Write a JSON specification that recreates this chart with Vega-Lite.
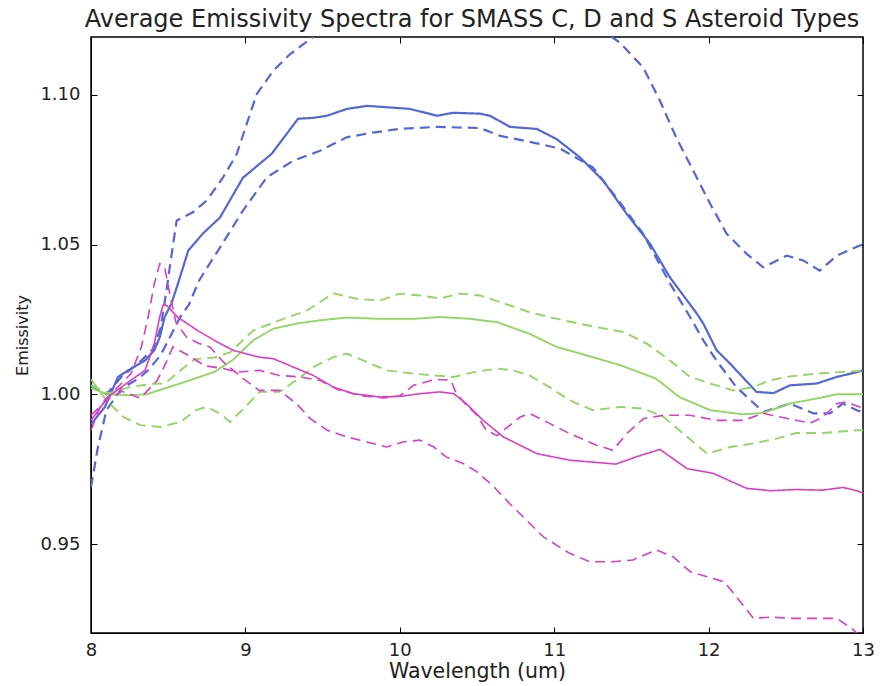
{
  "$schema": "https://vega.github.io/schema/vega-lite/v6.json",
  "width": 772,
  "height": 596,
  "autosize": "none",
  "padding": {"left": 91, "top": 37, "right": 22, "bottom": 53},
  "background": "white",
  "title": {"text": "Average Emissivity Spectra for SMASS C, D and S Asteroid Types", "font": "DejaVu Sans", "fontSize": 24, "fontWeight": "normal", "color": "#222222", "anchor": "middle", "baseline": "alphabetic", "offset": 9, "dy": 23, "dx": -5},
  "config": {
    "view": {"stroke": "#000000", "strokeWidth": 1.5},
    "axis": {"labelFont": "DejaVu Sans", "titleFont": "DejaVu Sans", "labelFontSize": 18, "titleFontSize": 17, "titleFontWeight": "normal", "labelColor": "#222222", "titleColor": "#222222", "grid": false, "domainColor": "#000000", "tickColor": "#000000", "tickSize": -6, "tickWidth": 1}
  },
  "datasets": {
    "spectra": [
      {"s":"C0","t":"C","k":"mean","x":8.0,"y":0.990},{"s":"C0","t":"C","k":"mean","x":8.09,"y":0.9958},{"s":"C0","t":"C","k":"mean","x":8.175,"y":1.0058},{"s":"C0","t":"C","k":"mean","x":8.26,"y":1.0086},{"s":"C0","t":"C","k":"mean","x":8.35,"y":1.0113},{"s":"C0","t":"C","k":"mean","x":8.41,"y":1.0147},{"s":"C0","t":"C","k":"mean","x":8.445,"y":1.019},{"s":"C0","t":"C","k":"mean","x":8.477,"y":1.0258},{"s":"C0","t":"C","k":"mean","x":8.52,"y":1.0302},{"s":"C0","t":"C","k":"mean","x":8.563,"y":1.0369},{"s":"C0","t":"C","k":"mean","x":8.63,"y":1.048},{"s":"C0","t":"C","k":"mean","x":8.725,"y":1.0537},{"s":"C0","t":"C","k":"mean","x":8.835,"y":1.059},{"s":"C0","t":"C","k":"mean","x":8.984,"y":1.0723},{"s":"C0","t":"C","k":"mean","x":9.17,"y":1.0803},{"s":"C0","t":"C","k":"mean","x":9.341,"y":1.092},{"s":"C0","t":"C","k":"mean","x":9.438,"y":1.0923},{"s":"C0","t":"C","k":"mean","x":9.528,"y":1.093},{"s":"C0","t":"C","k":"mean","x":9.658,"y":1.0953},{"s":"C0","t":"C","k":"mean","x":9.788,"y":1.0963},{"s":"C0","t":"C","k":"mean","x":9.956,"y":1.0957},{"s":"C0","t":"C","k":"mean","x":10.066,"y":1.0953},{"s":"C0","t":"C","k":"mean","x":10.241,"y":1.093},{"s":"C0","t":"C","k":"mean","x":10.345,"y":1.094},{"s":"C0","t":"C","k":"mean","x":10.519,"y":1.0937},{"s":"C0","t":"C","k":"mean","x":10.584,"y":1.093},{"s":"C0","t":"C","k":"mean","x":10.714,"y":1.0893},{"s":"C0","t":"C","k":"mean","x":10.887,"y":1.0886},{"s":"C0","t":"C","k":"mean","x":11.016,"y":1.0852},{"s":"C0","t":"C","k":"mean","x":11.167,"y":1.0791},{"s":"C0","t":"C","k":"mean","x":11.318,"y":1.0713},{"s":"C0","t":"C","k":"mean","x":11.47,"y":1.0602},{"s":"C0","t":"C","k":"mean","x":11.62,"y":1.0503},{"s":"C0","t":"C","k":"mean","x":11.75,"y":1.039},{"s":"C0","t":"C","k":"mean","x":11.923,"y":1.027},{"s":"C0","t":"C","k":"mean","x":11.966,"y":1.0236},{"s":"C0","t":"C","k":"mean","x":12.052,"y":1.0147},{"s":"C0","t":"C","k":"mean","x":12.14,"y":1.0102},{"s":"C0","t":"C","k":"mean","x":12.31,"y":1.0008},{"s":"C0","t":"C","k":"mean","x":12.42,"y":1.0004},{"s":"C0","t":"C","k":"mean","x":12.527,"y":1.003},{"s":"C0","t":"C","k":"mean","x":12.70,"y":1.0036},{"s":"C0","t":"C","k":"mean","x":12.83,"y":1.0058},{"s":"C0","t":"C","k":"mean","x":12.96,"y":1.0074},{"s":"C0","t":"C","k":"mean","x":13.0,"y":1.008},

      {"s":"C1","t":"C","k":"std","x":8.0,"y":1.003},{"s":"C1","t":"C","k":"std","x":8.1,"y":1.0},{"s":"C1","t":"C","k":"std","x":8.2,"y":1.006},{"s":"C1","t":"C","k":"std","x":8.3,"y":1.010},{"s":"C1","t":"C","k":"std","x":8.4,"y":1.015},{"s":"C1","t":"C","k":"std","x":8.45,"y":1.022},{"s":"C1","t":"C","k":"std","x":8.49,"y":1.035},{"s":"C1","t":"C","k":"std","x":8.52,"y":1.046},{"s":"C1","t":"C","k":"std","x":8.555,"y":1.058},{"s":"C1","t":"C","k":"std","x":8.66,"y":1.0608},{"s":"C1","t":"C","k":"std","x":8.75,"y":1.0647},{"s":"C1","t":"C","k":"std","x":8.855,"y":1.0724},{"s":"C1","t":"C","k":"std","x":8.944,"y":1.0802},{"s":"C1","t":"C","k":"std","x":9.008,"y":1.0902},{"s":"C1","t":"C","k":"std","x":9.073,"y":1.1002},{"s":"C1","t":"C","k":"std","x":9.18,"y":1.108},{"s":"C1","t":"C","k":"std","x":9.29,"y":1.1136},{"s":"C1","t":"C","k":"std","x":9.42,"y":1.1186},{"s":"C1","t":"C","k":"std","x":9.6,"y":1.126},{"s":"C1","t":"C","k":"std","x":10.0,"y":1.133},{"s":"C1","t":"C","k":"std","x":10.5,"y":1.135},{"s":"C1","t":"C","k":"std","x":11.0,"y":1.13},{"s":"C1","t":"C","k":"std","x":11.3,"y":1.122},{"s":"C1","t":"C","k":"std","x":11.426,"y":1.1174},{"s":"C1","t":"C","k":"std","x":11.577,"y":1.1091},{"s":"C1","t":"C","k":"std","x":11.685,"y":1.098},{"s":"C1","t":"C","k":"std","x":11.79,"y":1.0858},{"s":"C1","t":"C","k":"std","x":11.90,"y":1.0747},{"s":"C1","t":"C","k":"std","x":12.01,"y":1.0636},{"s":"C1","t":"C","k":"std","x":12.117,"y":1.0536},{"s":"C1","t":"C","k":"std","x":12.246,"y":1.0469},{"s":"C1","t":"C","k":"std","x":12.354,"y":1.0424},{"s":"C1","t":"C","k":"std","x":12.506,"y":1.0463},{"s":"C1","t":"C","k":"std","x":12.613,"y":1.0447},{"s":"C1","t":"C","k":"std","x":12.72,"y":1.0413},{"s":"C1","t":"C","k":"std","x":12.83,"y":1.0463},{"s":"C1","t":"C","k":"std","x":12.98,"y":1.0497},{"s":"C1","t":"C","k":"std","x":13.0,"y":1.050},

      {"s":"C2","t":"C","k":"std","x":8.0,"y":0.969},{"s":"C2","t":"C","k":"std","x":8.045,"y":0.9824},{"s":"C2","t":"C","k":"std","x":8.1,"y":0.9947},{"s":"C2","t":"C","k":"std","x":8.2,"y":1.002},{"s":"C2","t":"C","k":"std","x":8.3,"y":1.005},{"s":"C2","t":"C","k":"std","x":8.37,"y":1.008},{"s":"C2","t":"C","k":"std","x":8.45,"y":1.013},{"s":"C2","t":"C","k":"std","x":8.52,"y":1.020},{"s":"C2","t":"C","k":"std","x":8.58,"y":1.026},{"s":"C2","t":"C","k":"std","x":8.635,"y":1.030},{"s":"C2","t":"C","k":"std","x":8.70,"y":1.038},{"s":"C2","t":"C","k":"std","x":8.77,"y":1.0437},{"s":"C2","t":"C","k":"std","x":8.835,"y":1.049},{"s":"C2","t":"C","k":"std","x":8.984,"y":1.0613},{"s":"C2","t":"C","k":"std","x":9.138,"y":1.0724},{"s":"C2","t":"C","k":"std","x":9.31,"y":1.078},{"s":"C2","t":"C","k":"std","x":9.483,"y":1.0813},{"s":"C2","t":"C","k":"std","x":9.656,"y":1.0858},{"s":"C2","t":"C","k":"std","x":9.826,"y":1.0874},{"s":"C2","t":"C","k":"std","x":10.0,"y":1.0886},{"s":"C2","t":"C","k":"std","x":10.24,"y":1.0893},{"s":"C2","t":"C","k":"std","x":10.52,"y":1.0889},{"s":"C2","t":"C","k":"std","x":10.65,"y":1.0863},{"s":"C2","t":"C","k":"std","x":10.887,"y":1.0838},{"s":"C2","t":"C","k":"std","x":11.04,"y":1.082},{"s":"C2","t":"C","k":"std","x":11.25,"y":1.0758},{"s":"C2","t":"C","k":"std","x":11.40,"y":1.0658},{"s":"C2","t":"C","k":"std","x":11.575,"y":1.0537},{"s":"C2","t":"C","k":"std","x":11.75,"y":1.037},{"s":"C2","t":"C","k":"std","x":11.88,"y":1.0258},{"s":"C2","t":"C","k":"std","x":11.966,"y":1.018},{"s":"C2","t":"C","k":"std","x":12.05,"y":1.0113},{"s":"C2","t":"C","k":"std","x":12.18,"y":1.0024},{"s":"C2","t":"C","k":"std","x":12.354,"y":0.9941},{"s":"C2","t":"C","k":"std","x":12.527,"y":0.9969},{"s":"C2","t":"C","k":"std","x":12.68,"y":0.9936},{"s":"C2","t":"C","k":"std","x":12.786,"y":0.9936},{"s":"C2","t":"C","k":"std","x":12.87,"y":0.9969},{"s":"C2","t":"C","k":"std","x":12.96,"y":0.9947},{"s":"C2","t":"C","k":"std","x":13.0,"y":0.994},

      {"s":"S0","t":"S","k":"mean","x":8.0,"y":1.002},{"s":"S0","t":"S","k":"mean","x":8.11,"y":1.0},{"s":"S0","t":"S","k":"mean","x":8.25,"y":0.9997},{"s":"S0","t":"S","k":"mean","x":8.36,"y":1.0},{"s":"S0","t":"S","k":"mean","x":8.48,"y":1.002},{"s":"S0","t":"S","k":"mean","x":8.63,"y":1.0045},{"s":"S0","t":"S","k":"mean","x":8.80,"y":1.0075},{"s":"S0","t":"S","k":"mean","x":8.92,"y":1.0115},{"s":"S0","t":"S","k":"mean","x":9.05,"y":1.018},{"s":"S0","t":"S","k":"mean","x":9.18,"y":1.0219},{"s":"S0","t":"S","k":"mean","x":9.33,"y":1.0236},{"s":"S0","t":"S","k":"mean","x":9.48,"y":1.0247},{"s":"S0","t":"S","k":"mean","x":9.656,"y":1.0256},{"s":"S0","t":"S","k":"mean","x":9.87,"y":1.0252},{"s":"S0","t":"S","k":"mean","x":10.09,"y":1.0252},{"s":"S0","t":"S","k":"mean","x":10.26,"y":1.0258},{"s":"S0","t":"S","k":"mean","x":10.455,"y":1.0252},{"s":"S0","t":"S","k":"mean","x":10.63,"y":1.0241},{"s":"S0","t":"S","k":"mean","x":10.84,"y":1.0202},{"s":"S0","t":"S","k":"mean","x":11.016,"y":1.0158},{"s":"S0","t":"S","k":"mean","x":11.21,"y":1.013},{"s":"S0","t":"S","k":"mean","x":11.43,"y":1.0097},{"s":"S0","t":"S","k":"mean","x":11.66,"y":1.0052},{"s":"S0","t":"S","k":"mean","x":11.81,"y":0.9991},{"s":"S0","t":"S","k":"mean","x":12.01,"y":0.9947},{"s":"S0","t":"S","k":"mean","x":12.225,"y":0.9933},{"s":"S0","t":"S","k":"mean","x":12.354,"y":0.9938},{"s":"S0","t":"S","k":"mean","x":12.527,"y":0.9969},{"s":"S0","t":"S","k":"mean","x":12.70,"y":0.9986},{"s":"S0","t":"S","k":"mean","x":12.83,"y":1.0},{"s":"S0","t":"S","k":"mean","x":13.0,"y":1.0},

      {"s":"S1","t":"S","k":"std","x":8.0,"y":1.003},{"s":"S1","t":"S","k":"std","x":8.12,"y":1.0003},{"s":"S1","t":"S","k":"std","x":8.25,"y":1.0024},{"s":"S1","t":"S","k":"std","x":8.4,"y":1.0035},{"s":"S1","t":"S","k":"std","x":8.48,"y":1.0036},{"s":"S1","t":"S","k":"std","x":8.58,"y":1.008},{"s":"S1","t":"S","k":"std","x":8.67,"y":1.0117},{"s":"S1","t":"S","k":"std","x":8.80,"y":1.0123},{"s":"S1","t":"S","k":"std","x":8.9,"y":1.014},{"s":"S1","t":"S","k":"std","x":9.05,"y":1.0213},{"s":"S1","t":"S","k":"std","x":9.22,"y":1.0247},{"s":"S1","t":"S","k":"std","x":9.40,"y":1.028},{"s":"S1","t":"S","k":"std","x":9.57,"y":1.0337},{"s":"S1","t":"S","k":"std","x":9.72,"y":1.0319},{"s":"S1","t":"S","k":"std","x":9.87,"y":1.0313},{"s":"S1","t":"S","k":"std","x":10.0,"y":1.0336},{"s":"S1","t":"S","k":"std","x":10.13,"y":1.033},{"s":"S1","t":"S","k":"std","x":10.26,"y":1.032},{"s":"S1","t":"S","k":"std","x":10.39,"y":1.0336},{"s":"S1","t":"S","k":"std","x":10.52,"y":1.033},{"s":"S1","t":"S","k":"std","x":10.65,"y":1.0308},{"s":"S1","t":"S","k":"std","x":10.84,"y":1.0274},{"s":"S1","t":"S","k":"std","x":11.06,"y":1.0247},{"s":"S1","t":"S","k":"std","x":11.275,"y":1.0224},{"s":"S1","t":"S","k":"std","x":11.45,"y":1.0208},{"s":"S1","t":"S","k":"std","x":11.60,"y":1.0169},{"s":"S1","t":"S","k":"std","x":11.75,"y":1.0113},{"s":"S1","t":"S","k":"std","x":11.88,"y":1.0058},{"s":"S1","t":"S","k":"std","x":12.01,"y":1.0036},{"s":"S1","t":"S","k":"std","x":12.16,"y":1.0013},{"s":"S1","t":"S","k":"std","x":12.29,"y":1.0024},{"s":"S1","t":"S","k":"std","x":12.40,"y":1.0047},{"s":"S1","t":"S","k":"std","x":12.527,"y":1.006},{"s":"S1","t":"S","k":"std","x":12.70,"y":1.0069},{"s":"S1","t":"S","k":"std","x":12.96,"y":1.0078},{"s":"S1","t":"S","k":"std","x":13.0,"y":1.008},

      {"s":"S2","t":"S","k":"std","x":8.0,"y":1.005},{"s":"S2","t":"S","k":"std","x":8.1,"y":0.998},{"s":"S2","t":"S","k":"std","x":8.21,"y":0.9924},{"s":"S2","t":"S","k":"std","x":8.32,"y":0.9897},{"s":"S2","t":"S","k":"std","x":8.45,"y":0.9891},{"s":"S2","t":"S","k":"std","x":8.58,"y":0.9908},{"s":"S2","t":"S","k":"std","x":8.68,"y":0.9947},{"s":"S2","t":"S","k":"std","x":8.75,"y":0.9958},{"s":"S2","t":"S","k":"std","x":8.835,"y":0.9936},{"s":"S2","t":"S","k":"std","x":8.90,"y":0.9908},{"s":"S2","t":"S","k":"std","x":9.01,"y":0.9963},{"s":"S2","t":"S","k":"std","x":9.09,"y":1.0008},{"s":"S2","t":"S","k":"std","x":9.22,"y":1.0008},{"s":"S2","t":"S","k":"std","x":9.33,"y":1.0047},{"s":"S2","t":"S","k":"std","x":9.44,"y":1.0091},{"s":"S2","t":"S","k":"std","x":9.57,"y":1.0124},{"s":"S2","t":"S","k":"std","x":9.656,"y":1.0136},{"s":"S2","t":"S","k":"std","x":9.786,"y":1.0108},{"s":"S2","t":"S","k":"std","x":9.915,"y":1.008},{"s":"S2","t":"S","k":"std","x":10.09,"y":1.0069},{"s":"S2","t":"S","k":"std","x":10.22,"y":1.0063},{"s":"S2","t":"S","k":"std","x":10.35,"y":1.0058},{"s":"S2","t":"S","k":"std","x":10.48,"y":1.0074},{"s":"S2","t":"S","k":"std","x":10.63,"y":1.0086},{"s":"S2","t":"S","k":"std","x":10.73,"y":1.008},{"s":"S2","t":"S","k":"std","x":10.84,"y":1.0063},{"s":"S2","t":"S","k":"std","x":10.97,"y":1.0024},{"s":"S2","t":"S","k":"std","x":11.10,"y":0.998},{"s":"S2","t":"S","k":"std","x":11.25,"y":0.9947},{"s":"S2","t":"S","k":"std","x":11.43,"y":0.9958},{"s":"S2","t":"S","k":"std","x":11.58,"y":0.9952},{"s":"S2","t":"S","k":"std","x":11.71,"y":0.9924},{"s":"S2","t":"S","k":"std","x":11.86,"y":0.9858},{"s":"S2","t":"S","k":"std","x":11.99,"y":0.9802},{"s":"S2","t":"S","k":"std","x":12.14,"y":0.9824},{"s":"S2","t":"S","k":"std","x":12.29,"y":0.9836},{"s":"S2","t":"S","k":"std","x":12.44,"y":0.9852},{"s":"S2","t":"S","k":"std","x":12.57,"y":0.9871},{"s":"S2","t":"S","k":"std","x":12.74,"y":0.9871},{"s":"S2","t":"S","k":"std","x":12.96,"y":0.988},{"s":"S2","t":"S","k":"std","x":13.0,"y":0.988},

      {"s":"D0","t":"D","k":"mean","x":8.0,"y":0.9913},{"s":"D0","t":"D","k":"mean","x":8.11,"y":0.9991},{"s":"D0","t":"D","k":"mean","x":8.24,"y":1.004},{"s":"D0","t":"D","k":"mean","x":8.35,"y":1.008},{"s":"D0","t":"D","k":"mean","x":8.41,"y":1.0169},{"s":"D0","t":"D","k":"mean","x":8.445,"y":1.0258},{"s":"D0","t":"D","k":"mean","x":8.466,"y":1.0297},{"s":"D0","t":"D","k":"mean","x":8.49,"y":1.0297},{"s":"D0","t":"D","k":"mean","x":8.56,"y":1.0258},{"s":"D0","t":"D","k":"mean","x":8.69,"y":1.0213},{"s":"D0","t":"D","k":"mean","x":8.82,"y":1.0174},{"s":"D0","t":"D","k":"mean","x":8.92,"y":1.0147},{"s":"D0","t":"D","k":"mean","x":9.09,"y":1.0124},{"s":"D0","t":"D","k":"mean","x":9.18,"y":1.0119},{"s":"D0","t":"D","k":"mean","x":9.31,"y":1.0091},{"s":"D0","t":"D","k":"mean","x":9.44,"y":1.0063},{"s":"D0","t":"D","k":"mean","x":9.57,"y":1.0024},{"s":"D0","t":"D","k":"mean","x":9.70,"y":1.0002},{"s":"D0","t":"D","k":"mean","x":9.87,"y":0.9991},{"s":"D0","t":"D","k":"mean","x":10.0,"y":0.9993},{"s":"D0","t":"D","k":"mean","x":10.13,"y":1.0002},{"s":"D0","t":"D","k":"mean","x":10.26,"y":1.0008},{"s":"D0","t":"D","k":"mean","x":10.35,"y":1.0002},{"s":"D0","t":"D","k":"mean","x":10.43,"y":0.9969},{"s":"D0","t":"D","k":"mean","x":10.54,"y":0.9913},{"s":"D0","t":"D","k":"mean","x":10.67,"y":0.9858},{"s":"D0","t":"D","k":"mean","x":10.887,"y":0.9802},{"s":"D0","t":"D","k":"mean","x":11.10,"y":0.978},{"s":"D0","t":"D","k":"mean","x":11.40,"y":0.9767},{"s":"D0","t":"D","k":"mean","x":11.53,"y":0.9791},{"s":"D0","t":"D","k":"mean","x":11.685,"y":0.9816},{"s":"D0","t":"D","k":"mean","x":11.86,"y":0.9752},{"s":"D0","t":"D","k":"mean","x":12.03,"y":0.9736},{"s":"D0","t":"D","k":"mean","x":12.246,"y":0.9686},{"s":"D0","t":"D","k":"mean","x":12.40,"y":0.9678},{"s":"D0","t":"D","k":"mean","x":12.57,"y":0.9682},{"s":"D0","t":"D","k":"mean","x":12.74,"y":0.968},{"s":"D0","t":"D","k":"mean","x":12.87,"y":0.9689},{"s":"D0","t":"D","k":"mean","x":12.96,"y":0.9678},{"s":"D0","t":"D","k":"mean","x":13.0,"y":0.967},

      {"s":"D1","t":"D","k":"std","x":8.0,"y":0.988},{"s":"D1","t":"D","k":"std","x":8.067,"y":0.9969},{"s":"D1","t":"D","k":"std","x":8.153,"y":1.0013},{"s":"D1","t":"D","k":"std","x":8.26,"y":1.0069},{"s":"D1","t":"D","k":"std","x":8.326,"y":1.0158},{"s":"D1","t":"D","k":"std","x":8.37,"y":1.0258},{"s":"D1","t":"D","k":"std","x":8.41,"y":1.0369},{"s":"D1","t":"D","k":"std","x":8.445,"y":1.0436},{"s":"D1","t":"D","k":"std","x":8.477,"y":1.0424},{"s":"D1","t":"D","k":"std","x":8.51,"y":1.0336},{"s":"D1","t":"D","k":"std","x":8.55,"y":1.024},{"s":"D1","t":"D","k":"std","x":8.62,"y":1.019},{"s":"D1","t":"D","k":"std","x":8.70,"y":1.017},{"s":"D1","t":"D","k":"std","x":8.77,"y":1.0158},{"s":"D1","t":"D","k":"std","x":8.857,"y":1.0108},{"s":"D1","t":"D","k":"std","x":8.986,"y":1.0052},{"s":"D1","t":"D","k":"std","x":9.09,"y":1.0013},{"s":"D1","t":"D","k":"std","x":9.22,"y":1.0013},{"s":"D1","t":"D","k":"std","x":9.33,"y":0.9969},{"s":"D1","t":"D","k":"std","x":9.42,"y":0.9919},{"s":"D1","t":"D","k":"std","x":9.53,"y":0.988},{"s":"D1","t":"D","k":"std","x":9.656,"y":0.9858},{"s":"D1","t":"D","k":"std","x":9.786,"y":0.9841},{"s":"D1","t":"D","k":"std","x":9.915,"y":0.9824},{"s":"D1","t":"D","k":"std","x":10.02,"y":0.9841},{"s":"D1","t":"D","k":"std","x":10.13,"y":0.9847},{"s":"D1","t":"D","k":"std","x":10.22,"y":0.9824},{"s":"D1","t":"D","k":"std","x":10.30,"y":0.9791},{"s":"D1","t":"D","k":"std","x":10.41,"y":0.9769},{"s":"D1","t":"D","k":"std","x":10.50,"y":0.9741},{"s":"D1","t":"D","k":"std","x":10.61,"y":0.9691},{"s":"D1","t":"D","k":"std","x":10.71,"y":0.9636},{"s":"D1","t":"D","k":"std","x":10.82,"y":0.958},{"s":"D1","t":"D","k":"std","x":10.93,"y":0.9524},{"s":"D1","t":"D","k":"std","x":11.10,"y":0.9469},{"s":"D1","t":"D","k":"std","x":11.23,"y":0.9441},{"s":"D1","t":"D","k":"std","x":11.38,"y":0.9441},{"s":"D1","t":"D","k":"std","x":11.51,"y":0.9447},{"s":"D1","t":"D","k":"std","x":11.66,"y":0.948},{"s":"D1","t":"D","k":"std","x":11.77,"y":0.9458},{"s":"D1","t":"D","k":"std","x":11.88,"y":0.9408},{"s":"D1","t":"D","k":"std","x":11.99,"y":0.9391},{"s":"D1","t":"D","k":"std","x":12.10,"y":0.9374},{"s":"D1","t":"D","k":"std","x":12.18,"y":0.9324},{"s":"D1","t":"D","k":"std","x":12.29,"y":0.9252},{"s":"D1","t":"D","k":"std","x":12.40,"y":0.9256},{"s":"D1","t":"D","k":"std","x":12.53,"y":0.9252},{"s":"D1","t":"D","k":"std","x":12.70,"y":0.9252},{"s":"D1","t":"D","k":"std","x":12.83,"y":0.9252},{"s":"D1","t":"D","k":"std","x":12.94,"y":0.9213},{"s":"D1","t":"D","k":"std","x":13.0,"y":0.918},

      {"s":"D2","t":"D","k":"std","x":8.0,"y":0.993},{"s":"D2","t":"D","k":"std","x":8.1,"y":0.998},{"s":"D2","t":"D","k":"std","x":8.2,"y":1.001},{"s":"D2","t":"D","k":"std","x":8.32,"y":0.9987},{"s":"D2","t":"D","k":"std","x":8.43,"y":1.0047},{"s":"D2","t":"D","k":"std","x":8.49,"y":1.011},{"s":"D2","t":"D","k":"std","x":8.53,"y":1.0158},{"s":"D2","t":"D","k":"std","x":8.63,"y":1.013},{"s":"D2","t":"D","k":"std","x":8.74,"y":1.0095},{"s":"D2","t":"D","k":"std","x":8.857,"y":1.0086},{"s":"D2","t":"D","k":"std","x":8.944,"y":1.0074},{"s":"D2","t":"D","k":"std","x":9.09,"y":1.008},{"s":"D2","t":"D","k":"std","x":9.22,"y":1.0063},{"s":"D2","t":"D","k":"std","x":9.35,"y":1.0058},{"s":"D2","t":"D","k":"std","x":9.48,"y":1.0047},{"s":"D2","t":"D","k":"std","x":9.6,"y":1.0015},{"s":"D2","t":"D","k":"std","x":9.75,"y":0.9995},{"s":"D2","t":"D","k":"std","x":9.9,"y":0.9988},{"s":"D2","t":"D","k":"std","x":10.0,"y":0.9995},{"s":"D2","t":"D","k":"std","x":10.09,"y":1.003},{"s":"D2","t":"D","k":"std","x":10.23,"y":1.005},{"s":"D2","t":"D","k":"std","x":10.33,"y":1.0047},{"s":"D2","t":"D","k":"std","x":10.36,"y":1.001},{"s":"D2","t":"D","k":"std","x":10.42,"y":0.997},{"s":"D2","t":"D","k":"std","x":10.5,"y":0.993},{"s":"D2","t":"D","k":"std","x":10.56,"y":0.988},{"s":"D2","t":"D","k":"std","x":10.63,"y":0.9862},{"s":"D2","t":"D","k":"std","x":10.78,"y":0.9924},{"s":"D2","t":"D","k":"std","x":10.84,"y":0.9936},{"s":"D2","t":"D","k":"std","x":10.95,"y":0.9908},{"s":"D2","t":"D","k":"std","x":11.10,"y":0.9869},{"s":"D2","t":"D","k":"std","x":11.275,"y":0.983},{"s":"D2","t":"D","k":"std","x":11.38,"y":0.9813},{"s":"D2","t":"D","k":"std","x":11.47,"y":0.9869},{"s":"D2","t":"D","k":"std","x":11.58,"y":0.9919},{"s":"D2","t":"D","k":"std","x":11.71,"y":0.993},{"s":"D2","t":"D","k":"std","x":11.88,"y":0.993},{"s":"D2","t":"D","k":"std","x":12.05,"y":0.9913},{"s":"D2","t":"D","k":"std","x":12.225,"y":0.9913},{"s":"D2","t":"D","k":"std","x":12.354,"y":0.9936},{"s":"D2","t":"D","k":"std","x":12.51,"y":0.9919},{"s":"D2","t":"D","k":"std","x":12.66,"y":0.9904},{"s":"D2","t":"D","k":"std","x":12.74,"y":0.9924},{"s":"D2","t":"D","k":"std","x":12.83,"y":0.9969},{"s":"D2","t":"D","k":"std","x":12.89,"y":0.9974},{"s":"D2","t":"D","k":"std","x":12.98,"y":0.9958},{"s":"D2","t":"D","k":"std","x":13.0,"y":0.995}
    ]
  },
  "data": {"name": "spectra"},
  "layer": [
    {
      "mark": {"type": "line", "clip": true, "interpolate": "linear"},
      "encoding": {
        "x": {"field": "x", "type": "quantitative", "scale": {"domain": [8, 13], "nice": false, "zero": false}, "axis": {"title": "Wavelength (um)", "titleFontSize": 20.5, "values": [8, 9, 10, 11, 12, 13], "format": "d", "labelPadding": 14, "titlePadding": 2, "labelFlush": false}},
        "y": {"field": "y", "type": "quantitative", "scale": {"domain": [0.9203, 1.1193], "nice": false, "zero": false}, "axis": {"title": "Emissivity", "titleFontSize": 16, "values": [0.95, 1.0, 1.05, 1.1], "format": ".2f", "labelPadding": 17, "titlePadding": 9, "labelFlush": false}},
        "color": {"field": "t", "type": "nominal", "scale": {"domain": ["C", "S", "D"], "range": ["#5567d8", "#93d663", "#db3dc6"]}, "legend": null},
        "strokeDash": {"field": "k", "type": "nominal", "scale": {"domain": ["mean", "std"], "range": [[1, 0], [10, 6]]}, "legend": null},
        "strokeWidth": {"field": "t", "type": "nominal", "scale": {"domain": ["C", "S", "D"], "range": [2.2, 1.6, 2.0]}, "legend": null},
        "detail": {"field": "s", "type": "nominal"}
      }
    },
    {
      "mark": {"type": "line", "opacity": 0, "clip": true},
      "encoding": {
        "x": {"field": "x", "type": "quantitative", "axis": {"orient": "top", "labels": false, "title": null, "domain": false, "values": [8, 9, 10, 11, 12, 13]}},
        "y": {"field": "y", "type": "quantitative", "axis": {"orient": "right", "labels": false, "title": null, "domain": false, "values": [0.95, 1.0, 1.05, 1.1]}},
        "detail": {"field": "s", "type": "nominal"}
      }
    }
  ],
  "resolve": {"axis": {"x": "independent", "y": "independent"}}
}
